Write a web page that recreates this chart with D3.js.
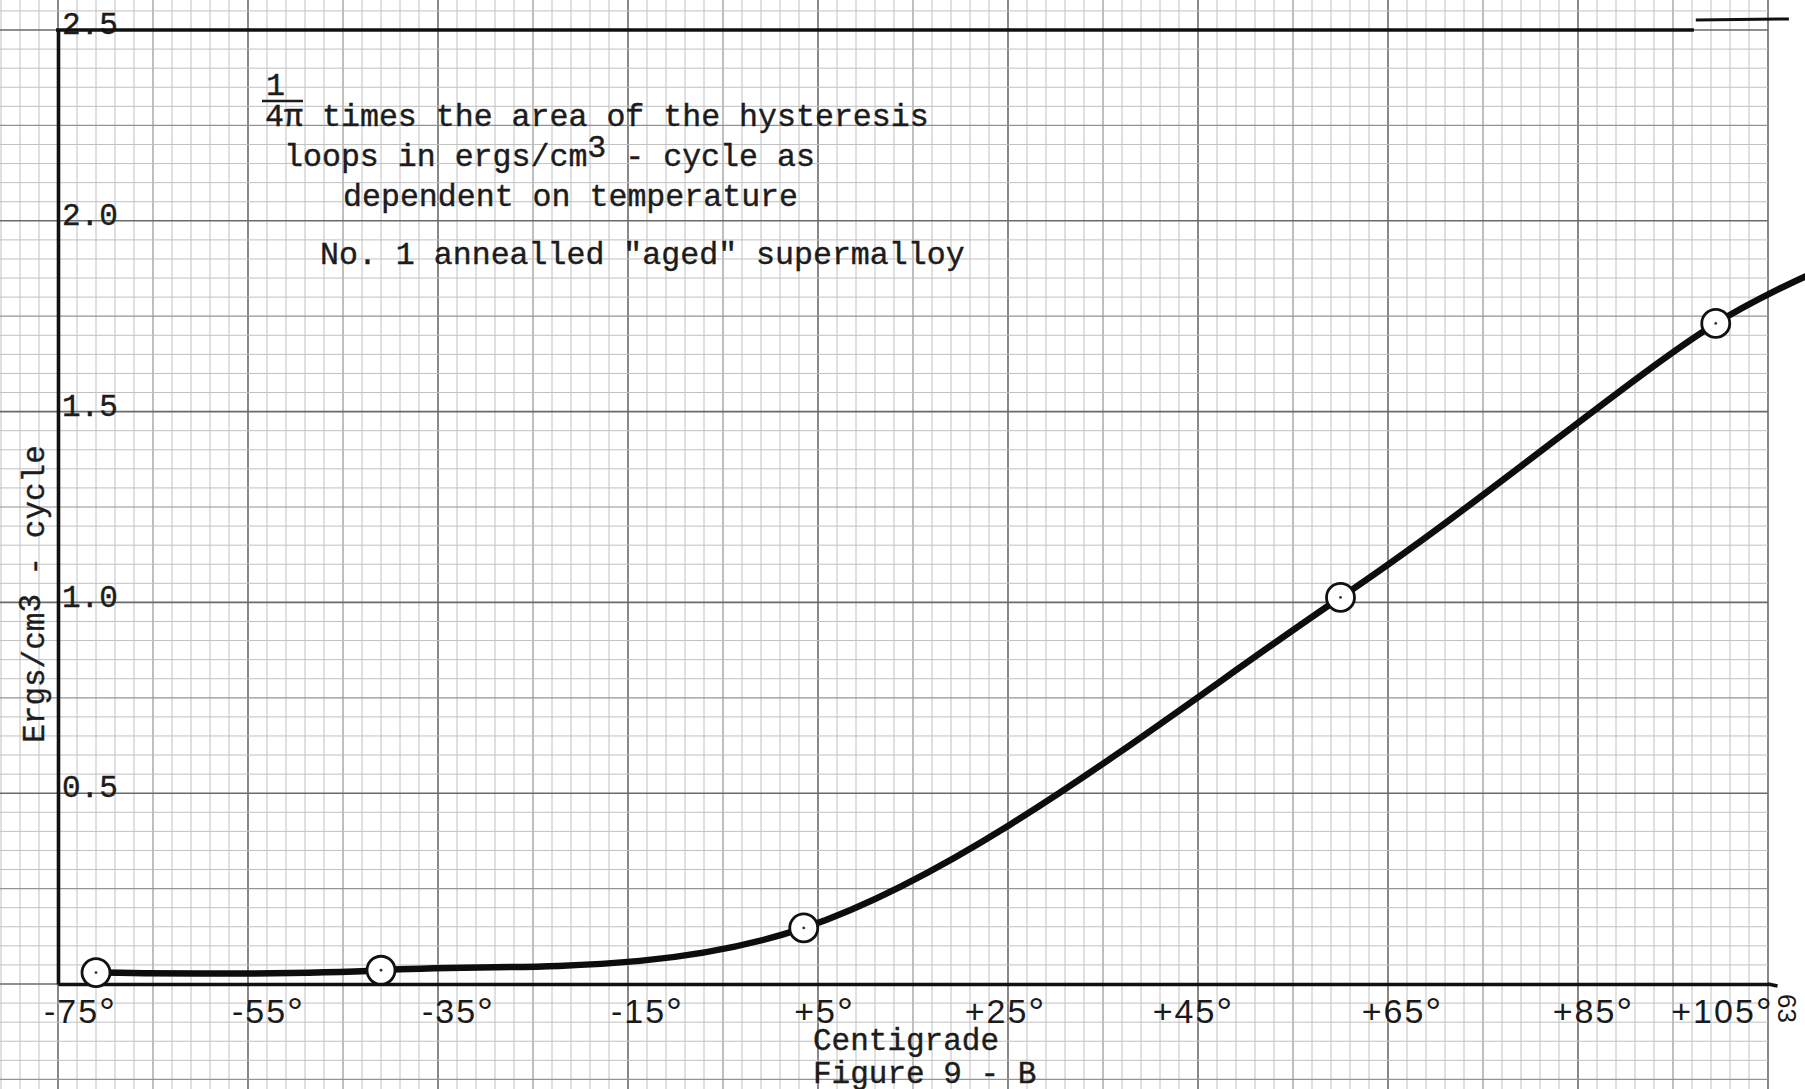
<!DOCTYPE html>
<html>
<head>
<meta charset="utf-8">
<script src="https://cdn.jsdelivr.net/npm/d3@7"></script>
<style>
  body { margin: 0; background: #fff; }
  svg { display: block; }
  .typed { font-family: "Liberation Mono", "DejaVu Sans Mono", monospace; fill: #1c1c1c; stroke: #1c1c1c; stroke-width: 0.4px; }
  .hand { font-family: "Liberation Sans", "DejaVu Sans", sans-serif; fill: #1a1a1a; }
</style>
</head>
<body>
<svg id="chart" width="1805" height="1089"></svg>
<script>
// Hysteresis loss (1/4π × loop area, ergs/cm³ per cycle) against temperature
const temperatures = [-71, -41, 3.5, 60, 99.5];          // °C
const ergsPerCycle = [0.030, 0.036, 0.147, 1.013, 1.731];
// the faired curve is carried on past the last reading to the sheet edge
const tailTemperatures = [109];
const tailErgs = [1.855];

const xTickValues = [-75, -55, -35, -15, 5, 25, 45, 65, 85, 105];
const xTickLabels = ["-75°", "-55°", "-35°", "-15°", "+5°", "+25°", "+45°", "+65°", "+85°", "+105°"];
const yTickValues = [0.5, 1.0, 1.5, 2.0, 2.5];
const yTickLabels = ["0.5", "1.0", "1.5", "2.0", "2.5"];

const yTitle = "Ergs/cm3 - cycle";
const xTitle = "Centigrade";
const figureCaption = "Figure 9 - B";
const noteFraction = ["1", "4π"];
const noteLines = ["times the area of the hysteresis",
                   "loops in ergs/cm", "3", " - cycle as",
                   "dependent on temperature",
                   "No. 1 annealled \"aged\" supermalloy"];
const pageNumber = "63";

const W = 1805, H = 1089;
const svg = d3.select("#chart");
svg.append("rect").attr("width", W).attr("height", H).attr("fill", "#fff");

const x = d3.scaleLinear().domain([-75, 105]).range([58, 1768]);
const y = d3.scaleLinear().domain([0, 2.5]).range([984, 30]);

// ---- graph-paper ruling: 2° × 0.05 squares, heavier every 5th and 10th ----
const ruleColor = ["#c0c0c0", "#949494", "#6a6a6a"];
const ruleWidth = [1, 1.2, 1.6];
const grid = svg.append("g");
d3.range(-81, 105.001, 2).forEach(t => {
  const k = Math.round((t + 75) / 2);
  const lvl = ((k % 10) + 10) % 10 === 0 ? 2 : (((k % 5) + 5) % 5 === 0 ? 1 : 0);
  grid.append("line")
    .attr("x1", x(t)).attr("x2", x(t)).attr("y1", 0).attr("y2", H)
    .attr("stroke", ruleColor[lvl]).attr("stroke-width", ruleWidth[lvl]);
});
d3.range(-6, 53).forEach(k => {
  const v = k * 0.05;
  const lvl = k % 10 === 0 ? 2 : (k % 5 === 0 ? 1 : 0);
  grid.append("line")
    .attr("x1", 0).attr("x2", x(105)).attr("y1", y(v)).attr("y2", y(v))
    .attr("stroke", ruleColor[lvl]).attr("stroke-width", ruleWidth[lvl]);
});

// ---- inked frame: axes and top rule ----
const yAxis = d3.axisRight(y)
  .tickValues(yTickValues)
  .tickFormat((d, i) => yTickLabels[i])
  .tickSize(0).tickSizeOuter(0).tickPadding(4);
const gy = svg.append("g").attr("transform", `translate(${x(-75)},0)`).call(yAxis);
gy.select(".domain").attr("stroke", "#111").attr("stroke-width", 3.6);
gy.selectAll(".tick text")
  .attr("class", "typed")
  .attr("font-size", 31)
  .attr("dy", "0.12em");

// hand-lettered temperature labels sit a little off their rulings
const handNudge = [22, 20, 20, 19, 6, -3, -5, 14, 15, -46];
const xAxis = d3.axisBottom(x)
  .tickValues(xTickValues)
  .tickFormat((d, i) => xTickLabels[i])
  .tickSize(0).tickSizeOuter(0).tickPadding(15);
const gx = svg.append("g").attr("transform", `translate(0,${y(0)})`).call(xAxis);
gx.select(".domain").attr("stroke", "#111").attr("stroke-width", 3.6);
gx.selectAll(".tick text")
  .attr("class", "hand")
  .attr("font-size", 34)
  .attr("letter-spacing", 2)
  .attr("dx", (d, i) => handNudge[i])
  .each(function (d, i) {
    const s = xTickLabels[i];
    const t = d3.select(this).text(null);
    t.append("tspan").text(s.slice(0, -1));
    t.append("tspan").attr("font-size", 40).attr("dy", "0.08em").text(s.slice(-1));
  });
// the drawn base line runs a touch past the last ruling
svg.append("line")
  .attr("x1", x(105)).attr("x2", x(106)).attr("y1", y(0)).attr("y2", y(0) + 2)
  .attr("stroke", "#111").attr("stroke-width", 3.4);

// top rule of the frame, then the short offset piece at the torn corner
svg.append("line")
  .attr("x1", x(-75) - 2).attr("x2", x(97.2)).attr("y1", y(2.5)).attr("y2", y(2.5))
  .attr("stroke", "#111").attr("stroke-width", 3.4);
svg.append("line")
  .attr("x1", x(97.4)).attr("x2", x(107.2)).attr("y1", y(2.5) - 10).attr("y2", y(2.5) - 11)
  .attr("stroke", "#111").attr("stroke-width", 3);

// ---- axis titles ----
const yt = svg.append("text").attr("class", "typed")
  .attr("font-size", 31)
  .attr("transform", "translate(44,594) rotate(-90)")
  .attr("text-anchor", "middle");
yt.append("tspan").text(yTitle.slice(0, 7));
yt.append("tspan").attr("dy", -4).text(yTitle.slice(7, 8));
yt.append("tspan").attr("dy", 4).text(yTitle.slice(8));

svg.append("text").attr("class", "typed").attr("font-size", 31)
  .attr("x", 813).attr("y", 1050).text(xTitle);
svg.append("text").attr("class", "typed").attr("font-size", 31)
  .attr("x", 813).attr("y", 1083).text(figureCaption);

// ---- typed note ----
const note = svg.append("g").attr("class", "typed").attr("font-size", 31.6);
note.append("text").attr("x", 266).attr("y", 95).text(noteFraction[0]);
note.append("line").attr("x1", 262).attr("x2", 303).attr("y1", 101).attr("y2", 101)
  .attr("stroke", "#1c1c1c").attr("stroke-width", 2.4);
note.append("text").attr("x", 265).attr("y", 126).text(noteFraction[1]);
note.append("text").attr("x", 322).attr("y", 126).text(noteLines[0]);
const l2 = note.append("text").attr("x", 284).attr("y", 166);
l2.append("tspan").text(noteLines[1]);
l2.append("tspan").attr("dy", -9).text(noteLines[2]);
l2.append("tspan").attr("dy", 9).text(noteLines[3]);
note.append("text").attr("x", 343).attr("y", 206).text(noteLines[4]);
note.append("text").attr("x", 320).attr("y", 264).text(noteLines[5]);

// page number written sideways at the margin
svg.append("text").attr("class", "hand").attr("font-size", 26)
  .attr("transform", "translate(1778,994) rotate(90)")
  .text(pageNumber);

// ---- faired curve through the readings ----
const curvePts = temperatures.map((t, i) => [t, ergsPerCycle[i]])
  .concat(tailTemperatures.map((t, i) => [t, tailErgs[i]]));
const line = d3.line()
  .x(d => x(d[0])).y(d => y(d[1]))
  .curve(d3.curveCatmullRom.alpha(0.5));
svg.append("path").datum(curvePts)
  .attr("d", line)
  .attr("fill", "none")
  .attr("stroke", "#0d0d0d")
  .attr("stroke-width", 6.5)
  .attr("stroke-linecap", "round");

// ---- reading circles ----
const pts = svg.append("g");
temperatures.forEach((t, i) => {
  pts.append("circle")
    .attr("cx", x(t)).attr("cy", y(ergsPerCycle[i])).attr("r", 14)
    .attr("fill", "#fff").attr("stroke", "#111").attr("stroke-width", 2.8);
  pts.append("circle")
    .attr("cx", x(t)).attr("cy", y(ergsPerCycle[i])).attr("r", 1.4)
    .attr("fill", "#333");
});
</script>
</body>
</html>
